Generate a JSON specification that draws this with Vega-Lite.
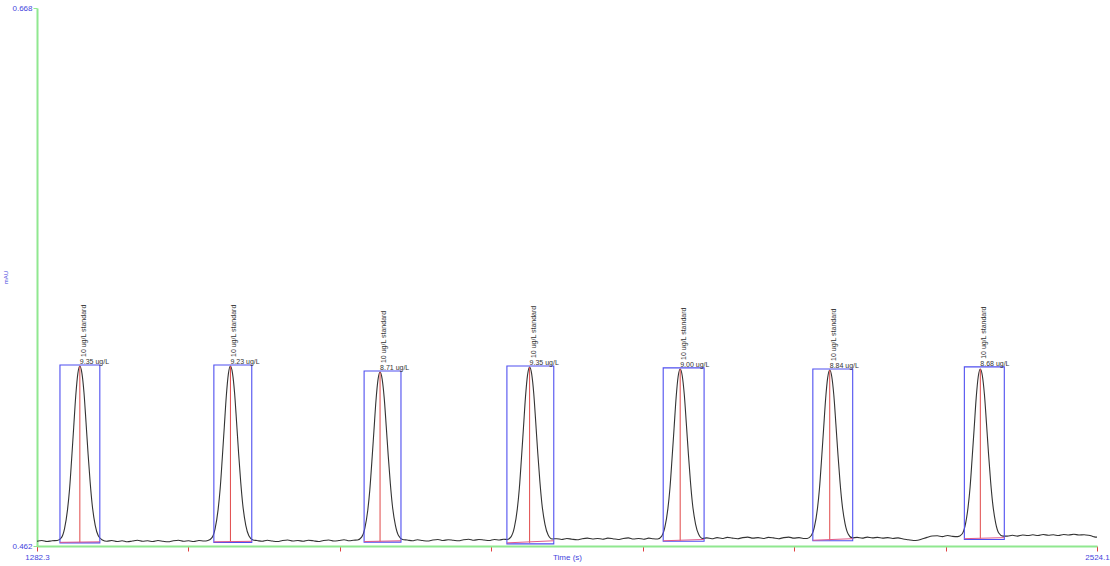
{
  "$schema": "https://vega.github.io/schema/vega-lite/v6.json",
  "width": 1060,
  "height": 538,
  "autosize": "none",
  "padding": {"left": 37, "top": 8, "right": 13, "bottom": 20},
  "background": "white",
  "config": {
    "view": {"stroke": null},
    "axis": {"grid": false, "labelFont": "Liberation Sans", "titleFont": "Liberation Sans", "labelFontSize": 8, "titleFontSize": 8, "titleFontWeight": "normal", "labelColor": "#4444dd", "titleColor": "#4444dd", "domainColor": "#90e890", "domainWidth": 2}
  },
  "datasets": {
    "trace": [
      {"t":1282.3,"v":0.4638},{"t":1288,"v":0.4641},{"t":1294,"v":0.4637},{"t":1300,"v":0.4640},
      {"t":1306.1,"v":0.4641},{"t":1310.9,"v":0.4652},{"t":1314.5,"v":0.4686},{"t":1318.1,"v":0.4760},{"t":1320.5,"v":0.4840},{"t":1322.9,"v":0.4954},{"t":1325.3,"v":0.5075},{"t":1327.7,"v":0.5195},{"t":1330.1,"v":0.5279},{"t":1332.5,"v":0.5309},{"t":1334.9,"v":0.5282},{"t":1337.3,"v":0.5209},{"t":1339.7,"v":0.5095},{"t":1342.1,"v":0.4974},{"t":1344.5,"v":0.4867},{"t":1346.9,"v":0.4780},{"t":1350.5,"v":0.4699},{"t":1354.1,"v":0.4659},{"t":1358.9,"v":0.4643},
      {"t":1364,"v":0.4638},{"t":1370,"v":0.4641},{"t":1376,"v":0.4637},{"t":1382,"v":0.4640},{"t":1388,"v":0.4636},{"t":1394,"v":0.4639},{"t":1400,"v":0.4642},{"t":1406,"v":0.4638},{"t":1412,"v":0.4640},{"t":1418,"v":0.4637},{"t":1424,"v":0.4641},{"t":1430,"v":0.4638},{"t":1436,"v":0.4636},{"t":1442,"v":0.4640},{"t":1448,"v":0.4642},{"t":1454,"v":0.4638},{"t":1460,"v":0.4640},{"t":1466,"v":0.4637},{"t":1472,"v":0.4641},{"t":1478,"v":0.4639},
      {"t":1482.5,"v":0.4641},{"t":1487.3,"v":0.4652},{"t":1490.9,"v":0.4686},{"t":1494.5,"v":0.4760},{"t":1496.9,"v":0.4840},{"t":1499.3,"v":0.4954},{"t":1501.7,"v":0.5075},{"t":1504.1,"v":0.5195},{"t":1506.5,"v":0.5279},{"t":1508.9,"v":0.5309},{"t":1511.3,"v":0.5282},{"t":1513.7,"v":0.5209},{"t":1516.1,"v":0.5095},{"t":1518.5,"v":0.4974},{"t":1520.9,"v":0.4867},{"t":1523.3,"v":0.4780},{"t":1526.9,"v":0.4699},{"t":1530.5,"v":0.4659},{"t":1535.3,"v":0.4643},
      {"t":1540,"v":0.4641},{"t":1546,"v":0.4638},{"t":1552,"v":0.4642},{"t":1558,"v":0.4639},{"t":1564,"v":0.4637},{"t":1570,"v":0.4641},{"t":1576,"v":0.4643},{"t":1582,"v":0.4639},{"t":1588,"v":0.4641},{"t":1594,"v":0.4638},{"t":1600,"v":0.4642},{"t":1606,"v":0.4640},{"t":1612,"v":0.4637},{"t":1618,"v":0.4641},{"t":1624,"v":0.4643},{"t":1630,"v":0.4639},{"t":1636,"v":0.4641},{"t":1642,"v":0.4644},{"t":1648,"v":0.4640},{"t":1653,"v":0.4642},
      {"t":1657.8,"v":0.4643},{"t":1662.6,"v":0.4654},{"t":1666.2,"v":0.4686},{"t":1669.8,"v":0.4757},{"t":1672.2,"v":0.4835},{"t":1674.6,"v":0.4944},{"t":1677.0,"v":0.5060},{"t":1679.4,"v":0.5176},{"t":1681.8,"v":0.5257},{"t":1684.2,"v":0.5286},{"t":1686.6,"v":0.5260},{"t":1689.0,"v":0.5189},{"t":1691.4,"v":0.5080},{"t":1693.8,"v":0.4964},{"t":1696.2,"v":0.4860},{"t":1698.6,"v":0.4776},{"t":1702.2,"v":0.4699},{"t":1705.8,"v":0.4660},{"t":1710.6,"v":0.4645},
      {"t":1716,"v":0.4643},{"t":1722,"v":0.4640},{"t":1728,"v":0.4644},{"t":1734,"v":0.4641},{"t":1740,"v":0.4639},{"t":1746,"v":0.4643},{"t":1752,"v":0.4645},{"t":1758,"v":0.4641},{"t":1764,"v":0.4644},{"t":1770,"v":0.4642},{"t":1776,"v":0.4640},{"t":1782,"v":0.4644},{"t":1788,"v":0.4646},{"t":1794,"v":0.4642},{"t":1800,"v":0.4645},{"t":1806,"v":0.4643},{"t":1812,"v":0.4641},{"t":1818,"v":0.4645},{"t":1824,"v":0.4643},{"t":1829,"v":0.4646},
      {"t":1833.0,"v":0.4645},{"t":1837.8,"v":0.4656},{"t":1841.4,"v":0.4689},{"t":1845.0,"v":0.4762},{"t":1847.4,"v":0.4842},{"t":1849.8,"v":0.4954},{"t":1852.2,"v":0.5073},{"t":1854.6,"v":0.5192},{"t":1857.0,"v":0.5275},{"t":1859.4,"v":0.5305},{"t":1861.8,"v":0.5279},{"t":1864.2,"v":0.5206},{"t":1866.6,"v":0.5093},{"t":1869.0,"v":0.4974},{"t":1871.4,"v":0.4868},{"t":1873.8,"v":0.4782},{"t":1877.4,"v":0.4703},{"t":1881.0,"v":0.4663},{"t":1885.8,"v":0.4647},
      {"t":1891,"v":0.4648},{"t":1897,"v":0.4645},{"t":1903,"v":0.4649},{"t":1909,"v":0.4646},{"t":1915,"v":0.4644},{"t":1921,"v":0.4648},{"t":1927,"v":0.4650},{"t":1933,"v":0.4647},{"t":1939,"v":0.4649},{"t":1945,"v":0.4646},{"t":1951,"v":0.4650},{"t":1957,"v":0.4648},{"t":1963,"v":0.4645},{"t":1969,"v":0.4649},{"t":1975,"v":0.4651},{"t":1981,"v":0.4647},{"t":1987,"v":0.4649},{"t":1993,"v":0.4646},{"t":1999,"v":0.4650},{"t":2004,"v":0.4648},
      {"t":2009.4,"v":0.4647},{"t":2014.2,"v":0.4658},{"t":2017.8,"v":0.4691},{"t":2021.4,"v":0.4763},{"t":2023.8,"v":0.4841},{"t":2026.2,"v":0.4952},{"t":2028.6,"v":0.5069},{"t":2031.0,"v":0.5187},{"t":2033.4,"v":0.5269},{"t":2035.8,"v":0.5298},{"t":2038.2,"v":0.5272},{"t":2040.6,"v":0.5200},{"t":2043.0,"v":0.5089},{"t":2045.4,"v":0.4972},{"t":2047.8,"v":0.4867},{"t":2050.2,"v":0.4782},{"t":2053.8,"v":0.4704},{"t":2057.4,"v":0.4665},{"t":2062.2,"v":0.4649},
      {"t":2067,"v":0.4651},{"t":2073,"v":0.4648},{"t":2079,"v":0.4652},{"t":2085,"v":0.4649},{"t":2091,"v":0.4653},{"t":2097,"v":0.4650},{"t":2103,"v":0.4648},{"t":2109,"v":0.4652},{"t":2115,"v":0.4654},{"t":2121,"v":0.4650},{"t":2127,"v":0.4652},{"t":2133,"v":0.4649},{"t":2139,"v":0.4653},{"t":2145,"v":0.4651},{"t":2151,"v":0.4648},{"t":2157,"v":0.4652},{"t":2163,"v":0.4654},{"t":2169,"v":0.4650},{"t":2175,"v":0.4652},{"t":2180,"v":0.4649},
      {"t":2184.6,"v":0.4649},{"t":2189.4,"v":0.4660},{"t":2193.0,"v":0.4692},{"t":2196.6,"v":0.4763},{"t":2199.0,"v":0.4841},{"t":2201.4,"v":0.4951},{"t":2203.8,"v":0.5068},{"t":2206.2,"v":0.5184},{"t":2208.6,"v":0.5265},{"t":2211.0,"v":0.5294},{"t":2213.4,"v":0.5268},{"t":2215.8,"v":0.5197},{"t":2218.2,"v":0.5087},{"t":2220.6,"v":0.4971},{"t":2223.0,"v":0.4867},{"t":2225.4,"v":0.4783},{"t":2229.0,"v":0.4705},{"t":2232.6,"v":0.4666},{"t":2237.4,"v":0.4651},
      {"t":2243,"v":0.4653},{"t":2249,"v":0.4650},{"t":2255,"v":0.4654},{"t":2261,"v":0.4651},{"t":2267,"v":0.4653},{"t":2273,"v":0.4650},{"t":2279,"v":0.4652},{"t":2285,"v":0.4649},{"t":2291,"v":0.4651},{"t":2297,"v":0.4647},{"t":2303,"v":0.4644},{"t":2309,"v":0.4641},{"t":2314,"v":0.4642},{"t":2319,"v":0.4647},{"t":2325,"v":0.4653},{"t":2331,"v":0.4658},{"t":2337,"v":0.4659},{"t":2343,"v":0.4656},{"t":2349,"v":0.4660},{"t":2355,"v":0.4657},
      {"t":2361.0,"v":0.4656},{"t":2365.8,"v":0.4665},{"t":2369.4,"v":0.4695},{"t":2373.0,"v":0.4767},{"t":2375.4,"v":0.4844},{"t":2377.8,"v":0.4955},{"t":2380.2,"v":0.5071},{"t":2382.6,"v":0.5188},{"t":2385.0,"v":0.5269},{"t":2387.4,"v":0.5298},{"t":2389.8,"v":0.5272},{"t":2392.2,"v":0.5201},{"t":2394.6,"v":0.5091},{"t":2397.0,"v":0.4974},{"t":2399.4,"v":0.4870},{"t":2401.8,"v":0.4786},{"t":2405.4,"v":0.4708},{"t":2409.0,"v":0.4670},{"t":2413.8,"v":0.4658},
      {"t":2419,"v":0.4658},{"t":2425,"v":0.4661},{"t":2431,"v":0.4658},{"t":2437,"v":0.4662},{"t":2443,"v":0.4660},{"t":2449,"v":0.4663},{"t":2455,"v":0.4660},{"t":2461,"v":0.4664},{"t":2467,"v":0.4661},{"t":2473,"v":0.4663},{"t":2479,"v":0.4660},{"t":2485,"v":0.4664},{"t":2491,"v":0.4662},{"t":2497,"v":0.4665},{"t":2503,"v":0.4662},{"t":2509,"v":0.4663},{"t":2514,"v":0.4661},{"t":2518,"v":0.4658},{"t":2521,"v":0.4655},{"t":2524.1,"v":0.4654}
    ],
    "peaks": [
      {"center":1332.5,"top":0.5309,"left":1309.2,"right":1355.9,"boxTop":0.5313,"boxBottom":0.4632,"baseL":0.4634,"baseR":0.4636,"name":"10 ug/L standard","conc":"9.35 ug/L"},
      {"center":1508.9,"top":0.5309,"left":1489.5,"right":1533.9,"boxTop":0.5313,"boxBottom":0.4634,"baseL":0.4636,"baseR":0.4638,"name":"10 ug/L standard","conc":"9.23 ug/L"},
      {"center":1684.2,"top":0.5286,"left":1665.5,"right":1708.7,"boxTop":0.5290,"boxBottom":0.4635,"baseL":0.4637,"baseR":0.4640,"name":"10 ug/L standard","conc":"8.71 ug/L"},
      {"center":1859.4,"top":0.5305,"left":1832.8,"right":1887.7,"boxTop":0.5309,"boxBottom":0.4628,"baseL":0.4632,"baseR":0.4640,"name":"10 ug/L standard","conc":"9.35 ug/L"},
      {"center":2035.8,"top":0.5298,"left":2015.9,"right":2063.8,"boxTop":0.5302,"boxBottom":0.4638,"baseL":0.4640,"baseR":0.4645,"name":"10 ug/L standard","conc":"9.00 ug/L"},
      {"center":2211.0,"top":0.5294,"left":2191.2,"right":2237.9,"boxTop":0.5298,"boxBottom":0.4640,"baseL":0.4642,"baseR":0.4648,"name":"10 ug/L standard","conc":"8.84 ug/L"},
      {"center":2387.4,"top":0.5298,"left":2368.7,"right":2415.5,"boxTop":0.5306,"boxBottom":0.4645,"baseL":0.4648,"baseR":0.4652,"name":"10 ug/L standard","conc":"8.68 ug/L"}
    ]
  },
  "layer": [
    {
      "data": {"name": "trace"},
      "mark": {"type": "line", "color": "#333333", "strokeWidth": 1.1, "interpolate": "monotone"},
      "encoding": {
        "x": {"field": "t", "type": "quantitative", "title": "Time (s)",
              "scale": {"domain": [1282.3, 2524.1], "nice": false, "zero": false},
              "axis": {"values": [1282.3, 1459.7, 1637.1, 1814.5, 1991.9, 2169.3, 2346.7, 2524.1],
                       "labelExpr": "(datum.value == 1282.3 || datum.value == 2524.1) ? format(datum.value, '.1f') : ''",
                       "tickColor": "#e04040", "tickSize": 5, "tickWidth": 1, "labelPadding": 2,
                       "labelFlush": false, "labelOverlap": false, "titleY": 7, "titleBaseline": "top"}},
        "y": {"field": "v", "type": "quantitative", "title": "mAU",
              "scale": {"domain": [0.462, 0.668], "nice": false, "zero": false},
              "axis": {"values": [0.462, 0.668], "labelExpr": "format(datum.value, '.3f')",
                       "tickColor": "#90e890", "tickSize": 4, "tickWidth": 1, "labelPadding": 1,
                       "labelFlush": false, "labelOverlap": false, "titleX": -29, "titleFontSize": 6}}
      }
    },
    {
      "data": {"name": "peaks"},
      "mark": {"type": "rect", "fill": "transparent", "stroke": "#4f4ff0", "strokeOpacity": 1, "strokeWidth": 1.1},
      "encoding": {
        "x": {"field": "left", "type": "quantitative", "title": "Time (s)"},
        "x2": {"field": "right"},
        "y": {"field": "boxBottom", "type": "quantitative", "title": "mAU"},
        "y2": {"field": "boxTop"}
      }
    },
    {
      "data": {"name": "peaks"},
      "mark": {"type": "rule", "color": "#e04848", "strokeWidth": 1},
      "encoding": {
        "x": {"field": "center", "type": "quantitative", "title": "Time (s)"},
        "y": {"field": "baseL", "type": "quantitative", "title": "mAU"},
        "y2": {"field": "top"}
      }
    },
    {
      "data": {"name": "peaks"},
      "mark": {"type": "rule", "color": "#e05a8a", "strokeWidth": 1},
      "encoding": {
        "x": {"field": "left", "type": "quantitative", "title": "Time (s)"},
        "x2": {"field": "right"},
        "y": {"field": "baseL", "type": "quantitative", "title": "mAU"},
        "y2": {"field": "baseR"}
      }
    },
    {
      "data": {"name": "peaks"},
      "mark": {"type": "text", "angle": 270, "align": "left", "baseline": "middle", "dx": 8, "dy": 4, "font": "Liberation Sans", "fontSize": 7, "color": "#333333"},
      "encoding": {
        "x": {"field": "center", "type": "quantitative", "title": "Time (s)"},
        "y": {"field": "boxTop", "type": "quantitative", "title": "mAU"},
        "text": {"field": "name"}
      }
    },
    {
      "data": {"name": "peaks"},
      "mark": {"type": "text", "align": "left", "baseline": "bottom", "dx": 0, "dy": 0, "font": "Liberation Sans", "fontSize": 7, "color": "#333333"},
      "encoding": {
        "x": {"field": "center", "type": "quantitative", "title": "Time (s)"},
        "y": {"field": "boxTop", "type": "quantitative", "title": "mAU"},
        "text": {"field": "conc"}
      }
    }
  ]
}
